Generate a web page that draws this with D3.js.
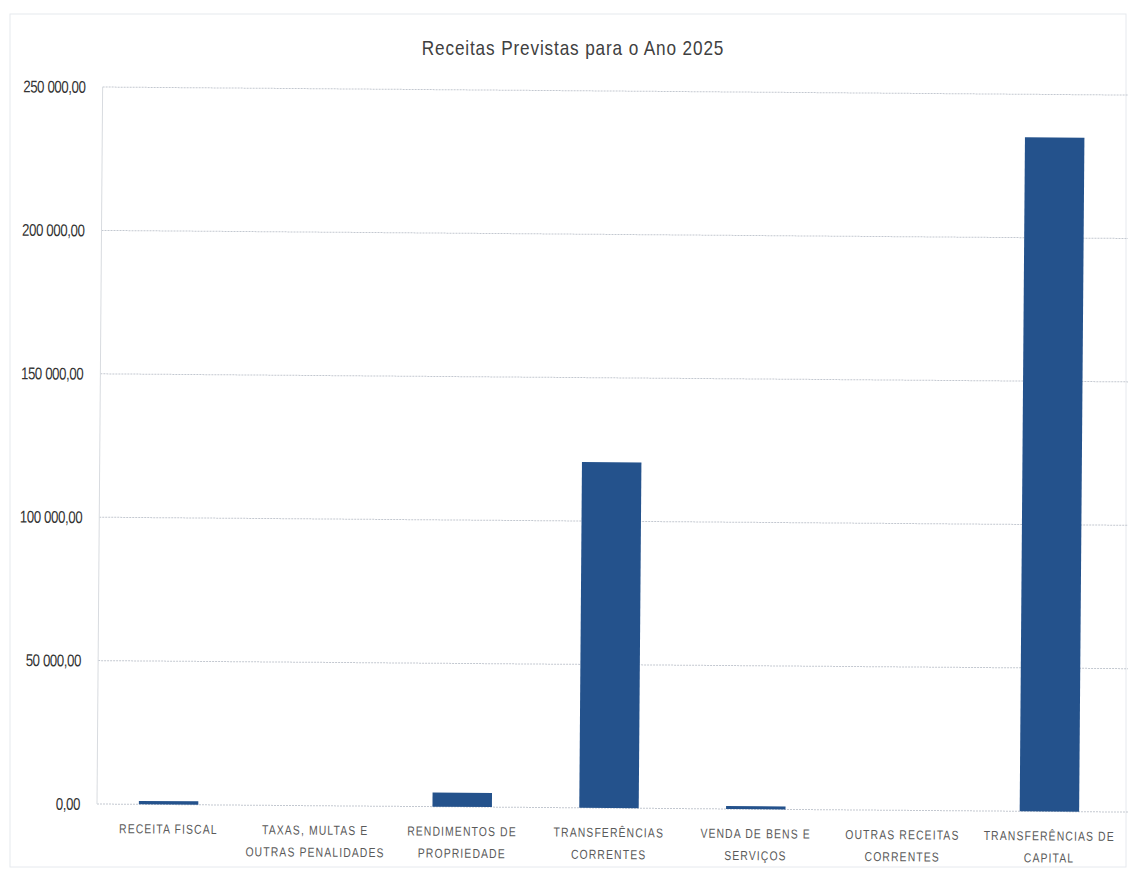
<!DOCTYPE html>
<html><head><meta charset="utf-8">
<script src="https://cdn.jsdelivr.net/npm/d3@7"></script>
<style>
body{margin:0;background:#fff;}
svg{display:block;}
</style></head>
<body>
<script>
const categories = ["RECEITA FISCAL","TAXAS, MULTAS E|OUTRAS PENALIDADES","RENDIMENTOS DE|PROPRIEDADE","TRANSFERÊNCIAS|CORRENTES","VENDA DE BENS E|SERVIÇOS","OUTRAS RECEITAS|CORRENTES","TRANSFERÊNCIAS DE|CAPITAL"];
const values = [1200, 0, 4900, 120600, 1000, 0, 235000];
const yTicks = [0, 50000, 100000, 150000, 200000, 250000];
const yTickLabels = ["0,00","50 000,00","100 000,00","150 000,00","200 000,00","250 000,00"];
const title = "Receitas Previstas para o Ano 2025";

const W = 1128, H = 874;
const m = {left:97, top:87, bottom:70};
const svg = d3.select("body").append("svg").attr("width",W).attr("height",H);
const FONT = "'Liberation Sans','Arial',sans-serif";

// faint chart frame
svg.append("rect").attr("x",10).attr("y",14).attr("width",W-12).attr("height",853)
  .attr("fill","none").attr("stroke","#e6e9ee").attr("stroke-width",1);

const g = svg.append("g").attr("transform",`rotate(0.45, ${m.left}, ${H-m.bottom})`);

const x = d3.scaleBand().domain(categories).range([m.left, 1121]).paddingInner(0.595).paddingOuter(0.285);
const y = d3.scaleLinear().domain([0,250000]).range([H-m.bottom, m.top]);

// gridlines
g.append("g").selectAll("line").data(yTicks).join("line")
  .attr("x1",m.left).attr("x2",W).attr("y1",d=>y(d)).attr("y2",d=>y(d))
  .attr("stroke","#c3c8d0").attr("stroke-width",1).attr("stroke-dasharray","2,1");
g.append("line").attr("x1",m.left).attr("x2",m.left).attr("y1",y(250000)).attr("y2",y(0))
  .attr("stroke","#d8dbe0").attr("stroke-width",1);

// y labels
const ya = g.append("g");
ya.selectAll("text").data(yTicks).join("text")
  .attr("transform",d=>`translate(${m.left-17},${y(d)}) scale(0.78,1)`)
  .attr("text-anchor","end").attr("dy","0.35em")
  .attr("font-family",FONT).attr("font-size",17).attr("fill","#333")
  .attr("letter-spacing","-0.5")
  .text((d,i)=>yTickLabels[i]);

// bars
g.append("g").selectAll("rect").data(values).join("rect")
  .attr("x",(d,i)=>x(categories[i])).attr("width",x.bandwidth())
  .attr("y",d=>y(d)).attr("height",d=>d>0?Math.max(3, y(0)-y(d)):0)
  .attr("fill","#24528c");

// x labels
const xl = g.append("g").selectAll("text").data(categories).join("text")
  .attr("transform",d=>`translate(${x(d)+x.bandwidth()/2},${y(0)+29}) scale(0.8,1)`)
  .attr("text-anchor","middle")
  .attr("font-family",FONT).attr("font-size",13)
  .attr("fill","#5a5a5a").attr("letter-spacing","1.4");
xl.each(function(d){
  const parts = d.split("|");
  const t = d3.select(this);
  parts.forEach((p,i)=>t.append("tspan").attr("x",0).attr("dy",i===0?0:22).text(p));
});

// title
svg.append("text").attr("transform","translate(573,55) scale(0.86,1)").attr("text-anchor","middle")
  .attr("font-family",FONT).attr("font-size",20)
  .attr("fill","#404040").attr("letter-spacing","1").text(title);
</script>
</body></html>
